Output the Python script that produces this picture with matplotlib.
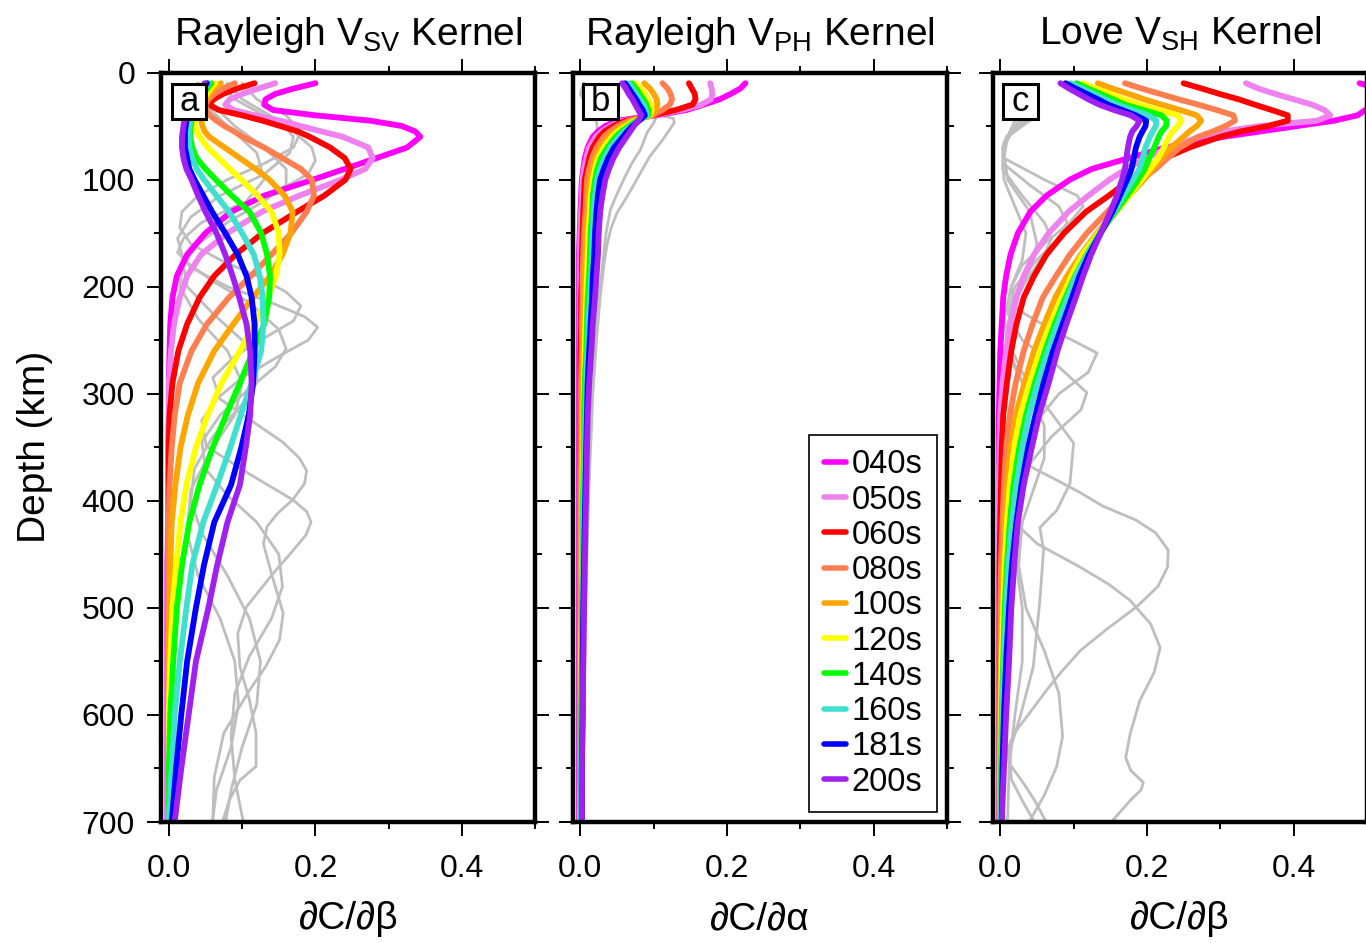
import matplotlib.pyplot as plt
from matplotlib.lines import Line2D
from matplotlib.patches import Rectangle
from matplotlib.ticker import MultipleLocator, FormatStrFormatter

plt.rcParams['font.family'] = ['Liberation Sans', 'DejaVu Sans']
plt.rcParams['mathtext.fontset'] = 'custom'
plt.rcParams['mathtext.rm'] = 'Liberation Sans'

# depth samples (km) shared by the fundamental-mode kernels
depth = [10, 15, 20, 25, 30, 35, 40, 45, 50, 55, 60, 70, 80, 90, 100, 115, 130, 150,
         170, 190, 210, 235, 260, 290, 320, 350, 385, 420, 460, 500, 550, 600, 650, 700]

periods = ['040s', '050s', '060s', '080s', '100s', '120s', '140s', '160s', '181s', '200s']
colors = ['#ff00ff', '#ee82ee', '#ff0000', '#ff7f50', '#ffa500',
          '#ffff00', '#00ff00', '#40e0d0', '#0000ff', '#a020f0']

# ---- Rayleigh VSV kernels
a_040 = [0.200, 0.170, 0.145, 0.132, 0.130, 0.142, 0.200, 0.275, 0.318, 0.336, 0.343, 0.325, 0.283, 0.240, 0.197, 0.130, 0.085, 0.050,
         0.025, 0.011, 0.005, 0.002, 0.001, 0.000, 0.000, -0.001, -0.001, -0.001, -0.002, -0.002, -0.002, -0.002, -0.002, -0.002]
a_050 = [0.145, 0.122, 0.100, 0.083, 0.077, 0.088, 0.118, 0.152, 0.180, 0.208, 0.237, 0.272, 0.278, 0.268, 0.235, 0.178, 0.127, 0.080,
         0.044, 0.025, 0.015, 0.007, 0.003, 0.000, 0.000, -0.001, -0.001, -0.001, -0.001, -0.001, -0.001, -0.001, -0.001, -0.001]
a_060 = [0.117, 0.093, 0.074, 0.061, 0.055, 0.068, 0.100, 0.128, 0.152, 0.176, 0.192, 0.220, 0.240, 0.248, 0.241, 0.212, 0.175, 0.128,
         0.091, 0.062, 0.042, 0.025, 0.013, 0.005, 0.001, 0.000, 0.000, 0.000, 0.000, 0.000, 0.000, 0.000, 0.000, 0.000]
a_080 = [0.090, 0.074, 0.062, 0.054, 0.050, 0.051, 0.056, 0.065, 0.076, 0.089, 0.101, 0.130, 0.155, 0.180, 0.195, 0.198, 0.188, 0.167,
         0.140, 0.112, 0.082, 0.052, 0.031, 0.015, 0.008, 0.004, 0.001, 0.000, 0.000, 0.000, 0.000, 0.000, 0.000, 0.000]
a_100 = [0.071, 0.062, 0.056, 0.051, 0.048, 0.046, 0.044, 0.044, 0.046, 0.049, 0.055, 0.076, 0.097, 0.118, 0.137, 0.158, 0.169, 0.166,
         0.155, 0.138, 0.115, 0.088, 0.062, 0.040, 0.026, 0.016, 0.009, 0.004, 0.002, 0.001, 0.000, 0.000, 0.000, 0.000]
a_120 = [0.063, 0.057, 0.052, 0.048, 0.045, 0.042, 0.039, 0.037, 0.036, 0.038, 0.042, 0.053, 0.068, 0.083, 0.099, 0.121, 0.140, 0.150,
         0.151, 0.146, 0.135, 0.117, 0.097, 0.072, 0.053, 0.037, 0.024, 0.016, 0.010, 0.005, 0.002, 0.000, 0.000, -0.001]
a_140 = [0.058, 0.052, 0.047, 0.042, 0.038, 0.035, 0.033, 0.031, 0.030, 0.029, 0.029, 0.032, 0.038, 0.050, 0.064, 0.086, 0.110, 0.126,
         0.134, 0.138, 0.137, 0.130, 0.115, 0.097, 0.078, 0.060, 0.042, 0.028, 0.018, 0.011, 0.006, 0.002, 0.000, -0.001]
a_160 = [0.054, 0.048, 0.042, 0.038, 0.034, 0.032, 0.030, 0.029, 0.028, 0.027, 0.027, 0.028, 0.032, 0.038, 0.048, 0.065, 0.082, 0.100,
         0.116, 0.124, 0.128, 0.129, 0.126, 0.113, 0.098, 0.084, 0.066, 0.047, 0.032, 0.024, 0.015, 0.008, 0.004, 0.000]
a_181 = [0.052, 0.046, 0.040, 0.035, 0.031, 0.028, 0.026, 0.024, 0.023, 0.022, 0.022, 0.022, 0.025, 0.028, 0.035, 0.047, 0.059, 0.077,
         0.094, 0.106, 0.113, 0.117, 0.117, 0.115, 0.109, 0.099, 0.085, 0.062, 0.048, 0.037, 0.025, 0.017, 0.010, 0.004]
a_200 = [0.049, 0.043, 0.037, 0.032, 0.028, 0.025, 0.023, 0.021, 0.020, 0.019, 0.018, 0.018, 0.020, 0.024, 0.031, 0.040, 0.050, 0.065,
         0.077, 0.087, 0.096, 0.106, 0.111, 0.113, 0.111, 0.105, 0.097, 0.080, 0.066, 0.054, 0.037, 0.027, 0.017, 0.008]

# ---- Rayleigh VPH kernels
b_040 = [0.225, 0.218, 0.205, 0.190, 0.168, 0.145, 0.103, 0.050, 0.034, 0.024, 0.017, 0.010, 0.006, 0.004, 0.002, 0.001, 0.000, -0.001,
         -0.002, -0.002, -0.002, -0.002, -0.002, -0.002, -0.002, -0.002, -0.002, -0.002, -0.002, -0.002, -0.002, -0.002, -0.002, -0.002]
b_050 = [0.177, 0.179, 0.180, 0.178, 0.165, 0.138, 0.100, 0.058, 0.040, 0.029, 0.021, 0.012, 0.008, 0.005, 0.003, 0.002, 0.001, 0.000,
         -0.001, -0.001, -0.001, -0.001, -0.001, -0.001, -0.001, -0.001, -0.001, -0.001, -0.001, -0.001, -0.001, -0.001, -0.001, -0.001]
b_060 = [0.148, 0.152, 0.156, 0.157, 0.153, 0.130, 0.098, 0.062, 0.045, 0.033, 0.026, 0.017, 0.012, 0.009, 0.006, 0.005, 0.004, 0.003,
         0.002, 0.002, 0.001, 0.001, 0.000, 0.000, 0.000, 0.000, 0.000, 0.000, 0.000, 0.000, 0.000, 0.000, 0.000, 0.000]
b_080 = [0.112, 0.119, 0.123, 0.125, 0.122, 0.112, 0.098, 0.066, 0.051, 0.040, 0.032, 0.022, 0.016, 0.012, 0.009, 0.008, 0.007, 0.005,
         0.004, 0.003, 0.003, 0.002, 0.002, 0.001, 0.001, 0.001, 0.000, 0.000, 0.000, 0.000, 0.000, 0.000, 0.000, 0.000]
b_100 = [0.087, 0.095, 0.100, 0.104, 0.105, 0.103, 0.097, 0.070, 0.057, 0.046, 0.038, 0.027, 0.020, 0.016, 0.013, 0.011, 0.010, 0.008,
         0.007, 0.006, 0.005, 0.004, 0.004, 0.003, 0.002, 0.002, 0.002, 0.001, 0.001, 0.001, 0.000, 0.000, 0.000, 0.000]
b_120 = [0.075, 0.082, 0.088, 0.092, 0.096, 0.097, 0.095, 0.074, 0.062, 0.051, 0.043, 0.032, 0.024, 0.020, 0.017, 0.014, 0.013, 0.011,
         0.010, 0.009, 0.008, 0.007, 0.006, 0.005, 0.004, 0.004, 0.003, 0.003, 0.002, 0.002, 0.001, 0.001, 0.001, 0.000]
b_140 = [0.070, 0.076, 0.081, 0.086, 0.090, 0.093, 0.093, 0.077, 0.066, 0.056, 0.048, 0.037, 0.028, 0.023, 0.020, 0.017, 0.016, 0.014,
         0.013, 0.012, 0.010, 0.009, 0.008, 0.006, 0.005, 0.005, 0.004, 0.003, 0.003, 0.002, 0.002, 0.001, 0.001, 0.001]
b_160 = [0.066, 0.071, 0.076, 0.081, 0.086, 0.089, 0.091, 0.079, 0.069, 0.060, 0.053, 0.041, 0.033, 0.027, 0.023, 0.020, 0.018, 0.017,
         0.016, 0.015, 0.013, 0.011, 0.010, 0.008, 0.007, 0.006, 0.005, 0.004, 0.004, 0.003, 0.002, 0.002, 0.001, 0.001]
b_181 = [0.061, 0.066, 0.071, 0.076, 0.080, 0.085, 0.088, 0.080, 0.071, 0.064, 0.058, 0.046, 0.038, 0.032, 0.027, 0.024, 0.022, 0.020,
         0.019, 0.017, 0.016, 0.014, 0.012, 0.010, 0.009, 0.008, 0.007, 0.006, 0.005, 0.004, 0.003, 0.003, 0.002, 0.002]
b_200 = [0.057, 0.062, 0.066, 0.071, 0.075, 0.079, 0.083, 0.079, 0.073, 0.068, 0.063, 0.053, 0.045, 0.039, 0.034, 0.030, 0.027, 0.025,
         0.024, 0.022, 0.020, 0.017, 0.015, 0.012, 0.010, 0.009, 0.008, 0.007, 0.006, 0.005, 0.004, 0.003, 0.002, 0.002]

# ---- Love VSH kernels
c_040 = [0.490, 0.515, 0.530, 0.530, 0.515, 0.498, 0.487, 0.455, 0.405, 0.355, 0.305, 0.225, 0.175, 0.125, 0.095, 0.063, 0.041, 0.024,
         0.014, 0.008, 0.004, 0.002, 0.000, -0.001, -0.002, -0.002, -0.002, -0.002, -0.002, -0.002, -0.002, -0.002, -0.002, -0.002]
c_050 = [0.335, 0.352, 0.375, 0.400, 0.425, 0.442, 0.450, 0.432, 0.353, 0.305, 0.272, 0.232, 0.198, 0.172, 0.149, 0.120, 0.093, 0.066,
         0.046, 0.032, 0.022, 0.014, 0.008, 0.003, 0.000, -0.001, -0.002, -0.002, -0.002, -0.002, -0.002, -0.002, -0.002, -0.002]
c_060 = [0.250, 0.275, 0.299, 0.325, 0.347, 0.370, 0.392, 0.392, 0.365, 0.328, 0.300, 0.258, 0.224, 0.200, 0.177, 0.148, 0.117, 0.087,
         0.063, 0.046, 0.032, 0.022, 0.015, 0.009, 0.004, 0.002, 0.001, 0.000, -0.001, -0.001, -0.001, -0.001, -0.001, -0.001]
c_080 = [0.170, 0.193, 0.218, 0.243, 0.270, 0.295, 0.318, 0.320, 0.307, 0.290, 0.270, 0.245, 0.228, 0.212, 0.193, 0.168, 0.146, 0.118,
         0.095, 0.076, 0.058, 0.044, 0.032, 0.021, 0.013, 0.008, 0.005, 0.003, 0.001, 0.000, 0.000, 0.000, 0.000, 0.000]
c_100 = [0.133, 0.153, 0.175, 0.196, 0.220, 0.245, 0.268, 0.274, 0.268, 0.258, 0.250, 0.233, 0.220, 0.208, 0.196, 0.176, 0.157, 0.132,
         0.110, 0.091, 0.075, 0.060, 0.046, 0.033, 0.021, 0.014, 0.009, 0.006, 0.004, 0.002, 0.001, 0.000, 0.000, 0.000]
c_120 = [0.113, 0.130, 0.150, 0.168, 0.190, 0.215, 0.242, 0.247, 0.242, 0.235, 0.230, 0.223, 0.215, 0.204, 0.193, 0.176, 0.158, 0.134,
         0.112, 0.097, 0.084, 0.068, 0.054, 0.040, 0.027, 0.019, 0.013, 0.009, 0.006, 0.004, 0.002, 0.001, 0.000, 0.000]
c_140 = [0.104, 0.120, 0.137, 0.154, 0.170, 0.195, 0.220, 0.227, 0.226, 0.220, 0.216, 0.210, 0.203, 0.197, 0.188, 0.173, 0.157, 0.136,
         0.118, 0.102, 0.089, 0.074, 0.061, 0.047, 0.035, 0.026, 0.018, 0.013, 0.009, 0.006, 0.004, 0.002, 0.001, 0.000]
c_160 = [0.096, 0.112, 0.128, 0.143, 0.159, 0.180, 0.202, 0.213, 0.212, 0.208, 0.204, 0.198, 0.194, 0.190, 0.181, 0.168, 0.155, 0.136,
         0.119, 0.103, 0.092, 0.078, 0.065, 0.051, 0.039, 0.030, 0.022, 0.016, 0.011, 0.008, 0.005, 0.003, 0.002, 0.001]
c_181 = [0.089, 0.103, 0.118, 0.133, 0.147, 0.166, 0.185, 0.199, 0.198, 0.194, 0.190, 0.185, 0.182, 0.179, 0.173, 0.163, 0.153, 0.137,
         0.121, 0.108, 0.098, 0.085, 0.072, 0.059, 0.048, 0.038, 0.029, 0.022, 0.016, 0.012, 0.008, 0.005, 0.003, 0.002]
c_200 = [0.082, 0.094, 0.107, 0.120, 0.135, 0.155, 0.178, 0.190, 0.186, 0.180, 0.177, 0.174, 0.172, 0.170, 0.166, 0.159, 0.150, 0.137,
         0.124, 0.113, 0.103, 0.090, 0.078, 0.066, 0.053, 0.043, 0.032, 0.024, 0.019, 0.015, 0.012, 0.008, 0.005, 0.002]

# ---- overtone kernels (grey), each with its own depth samples
ga1_d = [10, 25, 40, 55, 70, 85, 100, 115, 130, 145, 160, 175, 190, 205, 218, 232, 248, 265, 285, 305, 324, 345, 360, 372,
         384, 399, 412, 424, 440, 468, 505, 530, 555, 577, 617, 658, 698]
ga1_v = [0.100, 0.120, 0.160, 0.180, 0.170, 0.130, 0.080, 0.040, 0.018, 0.015, 0.030, 0.070, 0.120, 0.160, 0.180, 0.170, 0.130,
         0.090, 0.060, 0.070, 0.110, 0.155, 0.178, 0.188, 0.185, 0.169, 0.148, 0.134, 0.129, 0.140, 0.156, 0.151, 0.132, 0.110,
         0.075, 0.062, 0.060]
ga2_d = [10, 25, 40, 55, 70, 82, 95, 110, 125, 140, 155, 168, 182, 200, 215, 228, 238, 250, 265, 285, 305, 325, 349, 375,
         399, 410, 420, 432, 450, 468, 499, 524, 555, 586, 617, 648, 661, 679, 698]
ga2_v = [0.070, 0.090, 0.130, 0.170, 0.195, 0.200, 0.190, 0.150, 0.090, 0.045, 0.020, 0.012, 0.030, 0.080, 0.140, 0.185, 0.203,
         0.190, 0.150, 0.100, 0.065, 0.045, 0.051, 0.110, 0.169, 0.188, 0.194, 0.187, 0.165, 0.142, 0.106, 0.094, 0.097, 0.110,
         0.119, 0.119, 0.097, 0.083, 0.074]
ga3_d = [10, 25, 45, 60, 75, 95, 115, 135, 155, 175, 195, 215, 240, 258, 275, 295, 320, 345, 370, 395, 420, 450, 480, 510,
         545, 580, 620, 660, 698]
ga3_v = [0.080, 0.100, 0.150, 0.170, 0.165, 0.130, 0.070, 0.030, 0.012, 0.020, 0.060, 0.110, 0.150, 0.160, 0.145, 0.110, 0.070,
         0.045, 0.050, 0.080, 0.120, 0.150, 0.155, 0.140, 0.110, 0.090, 0.085, 0.090, 0.101]
ga4_d = [10, 30, 50, 70, 90, 105, 120, 140, 160, 180, 200, 225, 250, 270, 290, 310, 340, 370, 400, 430, 470, 510, 550, 590,
         630, 670, 698]
ga4_v = [0.050, 0.060, 0.090, 0.130, 0.160, 0.160, 0.130, 0.080, 0.040, 0.020, 0.025, 0.060, 0.100, 0.120, 0.120, 0.100, 0.060,
         0.035, 0.030, 0.045, 0.080, 0.110, 0.125, 0.120, 0.100, 0.085, 0.078]
ga5_d = [10, 30, 50, 75, 100, 125, 150, 175, 200, 230, 260, 290, 320, 350, 390, 430, 470, 510, 550, 590, 630, 670, 698]
ga5_v = [0.040, 0.050, 0.080, 0.120, 0.130, 0.100, 0.050, 0.020, 0.015, 0.040, 0.080, 0.100, 0.090, 0.060, 0.030, 0.025, 0.040,
         0.070, 0.090, 0.095, 0.085, 0.065, 0.060]

gb1_d = [10, 15, 20, 25, 30, 35, 40, 50, 60, 80, 100, 130, 170, 220, 300, 400, 500, 600, 700]
gb1_v = [0.005, 0.002, 0.000, 0.004, 0.012, 0.016, 0.020, 0.023, 0.024, 0.025, 0.024, 0.021, 0.018, 0.015, 0.011, 0.008, 0.006,
         0.004, 0.003]
gb2_d = [10, 20, 30, 38, 43, 47, 55, 65, 78, 90, 106, 120, 131, 145, 162, 180, 210, 250, 300, 400, 500, 600, 700]
gb2_v = [0.062, 0.072, 0.082, 0.098, 0.127, 0.128, 0.120, 0.110, 0.095, 0.085, 0.072, 0.060, 0.050, 0.042, 0.036, 0.032, 0.027,
         0.022, 0.017, 0.011, 0.007, 0.005, 0.004]
gb3_d = [10, 20, 30, 38, 41, 47, 56, 72, 85, 100, 115, 128, 150, 169, 200, 250, 300, 400, 500, 600, 700]
gb3_v = [0.059, 0.068, 0.077, 0.090, 0.104, 0.100, 0.091, 0.082, 0.070, 0.059, 0.049, 0.041, 0.035, 0.032, 0.027, 0.021, 0.016,
         0.010, 0.007, 0.005, 0.003]

gc1_d = [45, 60, 80, 100, 115, 125, 140, 160, 180, 200, 220, 240, 262, 280, 300, 330, 355, 368, 380, 392, 405, 418, 430, 446,
         462, 480, 499, 520, 540, 560, 577, 600, 618, 632, 645, 664, 680, 698]
gc1_v = [0.040, 0.010, 0.005, 0.060, 0.105, 0.113, 0.095, 0.060, 0.030, 0.015, 0.020, 0.070, 0.132, 0.120, 0.080, 0.045, 0.036,
         0.041, 0.075, 0.108, 0.140, 0.185, 0.212, 0.229, 0.228, 0.215, 0.186, 0.145, 0.109, 0.083, 0.063, 0.038, 0.018, 0.010,
         0.012, 0.032, 0.047, 0.061]
gc2_d = [45, 60, 85, 105, 125, 140, 155, 175, 200, 225, 250, 275, 299, 315, 340, 370, 400, 425, 440, 462, 478, 493, 515, 537,
         560, 587, 618, 640, 652, 663, 670, 680, 698]
gc2_v = [0.035, 0.008, 0.004, 0.040, 0.080, 0.091, 0.080, 0.050, 0.020, 0.010, 0.030, 0.080, 0.118, 0.110, 0.070, 0.035, 0.025,
         0.027, 0.050, 0.109, 0.148, 0.177, 0.205, 0.218, 0.210, 0.190, 0.177, 0.171, 0.178, 0.195, 0.192, 0.177, 0.154]
gc3_d = [45, 65, 90, 115, 140, 155, 170, 195, 220, 250, 280, 312, 346, 384, 409, 425, 446, 493, 555, 602, 633, 660, 680, 698]
gc3_v = [0.030, 0.005, 0.003, 0.030, 0.060, 0.070, 0.060, 0.035, 0.015, 0.010, 0.030, 0.063, 0.100, 0.095, 0.077, 0.054, 0.059,
         0.054, 0.045, 0.027, 0.013, 0.015, 0.030, 0.045]
gc4_d = [45, 70, 100, 130, 160, 185, 210, 240, 270, 300, 330, 360, 390, 420, 460, 500, 540, 580, 620, 648, 675, 698]
gc4_v = [0.025, 0.004, 0.010, 0.040, 0.050, 0.040, 0.020, 0.008, 0.015, 0.040, 0.060, 0.060, 0.045, 0.030, 0.025, 0.035, 0.060,
         0.080, 0.085, 0.077, 0.060, 0.041]
gc5_d = [45, 70, 100, 125, 150, 175, 200, 230, 260, 290, 320, 350, 380, 410, 450, 500, 550, 600, 650, 698]
gc5_v = [0.020, 0.003, 0.005, 0.020, 0.035, 0.030, 0.015, 0.005, 0.012, 0.030, 0.040, 0.030, 0.015, 0.010, 0.020, 0.030, 0.030,
         0.020, 0.012, 0.010]

panels = [
    dict(title=r'Rayleigh V$_{\mathrm{SV}}$ Kernel', xlabel='∂C/∂β', tag='a',
         curves=[a_040, a_050, a_060, a_080, a_100, a_120, a_140, a_160, a_181, a_200],
         grey=[(ga1_d, ga1_v), (ga2_d, ga2_v), (ga3_d, ga3_v), (ga4_d, ga4_v), (ga5_d, ga5_v)]),
    dict(title=r'Rayleigh V$_{\mathrm{PH}}$ Kernel', xlabel='∂C/∂α', tag='b',
         curves=[b_040, b_050, b_060, b_080, b_100, b_120, b_140, b_160, b_181, b_200],
         grey=[(gb1_d, gb1_v), (gb2_d, gb2_v), (gb3_d, gb3_v)]),
    dict(title=r'Love V$_{\mathrm{SH}}$ Kernel', xlabel='∂C/∂β', tag='c',
         curves=[c_040, c_050, c_060, c_080, c_100, c_120, c_140, c_160, c_181, c_200],
         grey=[(gc1_d, gc1_v), (gc2_d, gc2_v), (gc3_d, gc3_v), (gc4_d, gc4_v), (gc5_d, gc5_v)]),
]

fig = plt.figure(figsize=(13.66, 9.43), dpi=100)
lefts = [0.1182, 0.4195, 0.7269]

axes = []
for i, p in enumerate(panels):
    ax = fig.add_axes([lefts[i], 0.1283, 0.2738, 0.7948])
    axes.append(ax)

    for d, v in p['grey']:
        ax.plot(v, d, color='#bebebe', lw=2.0, solid_joinstyle='round')
    for vals, col in zip(p['curves'], colors):
        ax.plot(vals, depth, color=col, lw=4.2, solid_capstyle='round', solid_joinstyle='round')

    ax.set_xlim(-0.01, 0.5)
    ax.set_ylim(700, 0)
    ax.xaxis.set_major_locator(MultipleLocator(0.2))
    ax.xaxis.set_minor_locator(MultipleLocator(0.1))
    ax.xaxis.set_major_formatter(FormatStrFormatter('%.1f'))
    ax.yaxis.set_major_locator(MultipleLocator(100))
    ax.yaxis.set_minor_locator(MultipleLocator(50))
    ax.tick_params(which='both', direction='out', top=True, right=True, width=1.4, labelsize=23)
    ax.tick_params(which='major', length=10)
    ax.tick_params(axis='x', which='major', pad=13)
    ax.tick_params(axis='y', which='major', pad=9)
    ax.tick_params(which='minor', length=5)
    if i > 0:
        ax.tick_params(labelleft=False)
    for sp in ax.spines.values():
        sp.set_linewidth(3.2)

    ax.set_title(p['title'], fontsize=28, pad=20)
    ax.set_xlabel(p['xlabel'], fontsize=28)
    ax.xaxis.set_label_coords(0.5, -0.106)

    # panel letter in a small box
    ax.add_patch(Rectangle((0.004, 11), 0.047, 32, facecolor='white', edgecolor='black', lw=2.2, zorder=10))
    ax.text(0.0275, 27, p['tag'], fontsize=25, ha='center', va='center', zorder=11)

axes[0].set_ylabel('Depth (km)', fontsize=28)
axes[0].yaxis.set_label_coords(-0.29, 0.5)

handles = [Line2D([], [], color=c, lw=4, solid_capstyle='round') for c in colors]
leg = axes[1].legend(handles, periods, loc='lower right', bbox_to_anchor=(0.973, 0.013), borderaxespad=0,
                     fontsize=23.5, handlelength=0.7, handletextpad=0.15, labelspacing=0.13, borderpad=0.45,
                     fancybox=False, edgecolor='black', framealpha=1)
leg.get_frame().set_linewidth(1.2)

fig.savefig('out.png', dpi=100)
